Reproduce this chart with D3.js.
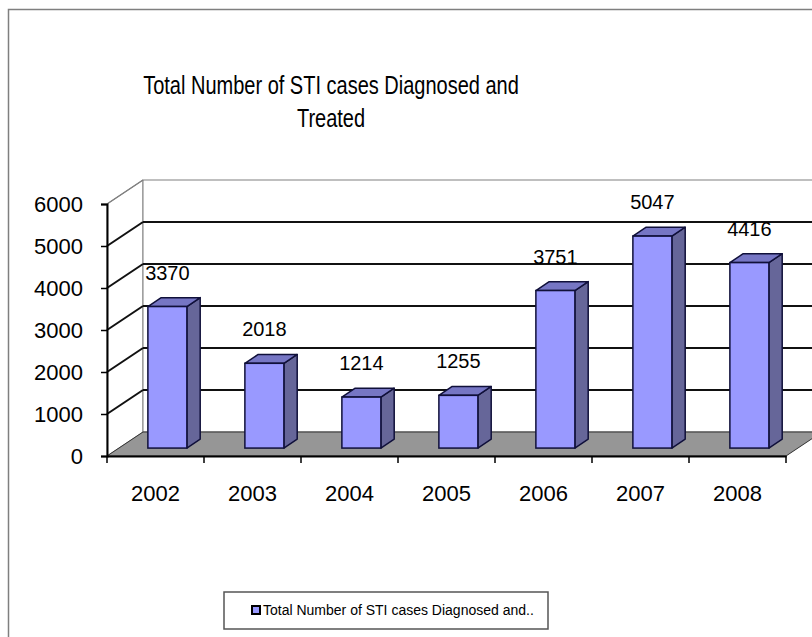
<!DOCTYPE html>
<html>
<head>
<meta charset="utf-8">
<script src="https://cdn.jsdelivr.net/npm/d3@7"></script>
<style>
  body { margin: 0; background: #fff; }
  svg text { font-family: "Liberation Sans", Arial, sans-serif; fill: #000; }
</style>
</head>
<body>
<div id="chart"></div>
<script>
// chart data
const years = ['2002', '2003', '2004', '2005', '2006', '2007', '2008'];
const cases = [3370, 2018, 1214, 1255, 3751, 5047, 4416];
const yTicks = [0, 1000, 2000, 3000, 4000, 5000, 6000];
const seriesName = 'Total Number of STI cases Diagnosed and..';
const titleLines = ['Total Number of STI cases Diagnosed and', 'Treated'];

const width = 812, height = 637;

const svg = d3.select('#chart').append('svg')
    .attr('width', width)
    .attr('height', height);

// outer chart frame
svg.append('rect')
    .attr('x', 8.5).attr('y', 9.5)
    .attr('width', 900).attr('height', 700)
    .attr('fill', 'none')
    .attr('stroke', '#7f7f7f')
    .attr('stroke-width', 1.5);

// title (the original is a bit narrow for its height, so squeeze it horizontally)
const titleG = svg.append('g');
const title = titleG.append('text')
    .attr('text-anchor', 'middle')
    .attr('font-size', 25);
title.selectAll('tspan')
    .data(titleLines)
    .join('tspan')
    .attr('x', 0)
    .attr('y', (d, i) => 94 + i * 33)
    .text(d => d);
const firstLineW = title.select('tspan').node().getComputedTextLength();
titleG.attr('transform', `translate(331,0) scale(${376 / firstLineW},1)`);

// plot geometry (oblique 3D projection)
const depth = { dx: 36, dy: -24 };
const xScale = d3.scaleBand().domain(years).range([107, 786]);
const yScale = d3.scaleLinear().domain([0, 6000]).range([456, 204]);
const x0 = xScale.range()[0], x1 = xScale.range()[1];
const yTop = yScale(6000), yBase = yScale(0);

const plot = svg.append('g');

// left side wall
plot.append('polygon')
    .attr('points', [[x0, yTop], [x0 + depth.dx, yTop + depth.dy],
        [x0 + depth.dx, yBase + depth.dy], [x0, yBase]].join(' '))
    .attr('fill', '#fff')
    .attr('stroke', '#808080');

// back wall
plot.append('rect')
    .attr('x', x0 + depth.dx)
    .attr('y', yTop + depth.dy)
    .attr('width', x1 - x0 + 10)
    .attr('height', yBase - yTop)
    .attr('fill', '#fff')
    .attr('stroke', '#808080');

// gridlines on back wall and side wall
const grid = yTicks.filter(v => v > 0 && v < 6000);
plot.selectAll('.grid-back')
    .data(grid)
    .join('line')
    .attr('class', 'grid-back')
    .attr('x1', x0 + depth.dx).attr('x2', width + 20)
    .attr('y1', d => yScale(d) + depth.dy)
    .attr('y2', d => yScale(d) + depth.dy)
    .attr('stroke', '#111')
    .attr('stroke-width', 2);

plot.selectAll('.grid-side')
    .data(yTicks.filter(v => v > 0))
    .join('line')
    .attr('class', 'grid-side')
    .attr('x1', x0).attr('x2', x0 + depth.dx)
    .attr('y1', d => yScale(d))
    .attr('y2', d => yScale(d) + depth.dy)
    .attr('stroke', d => d === 6000 ? '#808080' : '#111')
    .attr('stroke-width', d => d === 6000 ? 1.5 : 2);

// floor
plot.append('polygon')
    .attr('points', [[x0, yBase], [x0 + depth.dx, yBase + depth.dy],
        [x1 + depth.dx, yBase + depth.dy], [x1, yBase]].join(' '))
    .attr('fill', '#969696')
    .attr('stroke', '#333')
    .attr('stroke-width', 1);

// bars
const barW = 39;
const barStart = 0.33, barDepth = 0.37;
const sx = depth.dx * barStart, sy = depth.dy * barStart;
const bx = depth.dx * barDepth, by = depth.dy * barDepth;

const bars = plot.selectAll('.bar')
    .data(years.map((y, i) => ({ year: y, value: cases[i] })))
    .join('g')
    .attr('class', 'bar');

const barLeft = d => xScale(d.year) + (xScale.bandwidth() - barW) / 2 + sx;
const barTop = d => yScale(d.value) + sy;
const barBottom = yBase + sy;

bars.append('polygon')
    .attr('points', d => [[barLeft(d) + barW, barTop(d)], [barLeft(d) + barW + bx, barTop(d) + by],
        [barLeft(d) + barW + bx, barBottom + by], [barLeft(d) + barW, barBottom]].join(' '))
    .attr('fill', '#666699')
    .attr('stroke', '#10103a')
    .attr('stroke-width', 1.5)
    .attr('stroke-linejoin', 'round');

bars.append('polygon')
    .attr('points', d => [[barLeft(d), barTop(d)], [barLeft(d) + bx, barTop(d) + by],
        [barLeft(d) + barW + bx, barTop(d) + by], [barLeft(d) + barW, barTop(d)]].join(' '))
    .attr('fill', '#7676c4')
    .attr('stroke', '#10103a')
    .attr('stroke-width', 1.5)
    .attr('stroke-linejoin', 'round');

bars.append('rect')
    .attr('x', barLeft)
    .attr('y', barTop)
    .attr('width', barW)
    .attr('height', d => barBottom - barTop(d))
    .attr('fill', '#9999ff')
    .attr('stroke', '#10103a')
    .attr('stroke-width', 1.5);

// value labels
bars.append('text')
    .attr('x', d => barLeft(d) + barW / 2)
    .attr('y', d => barTop(d) - 34)
    .attr('dy', '0.35em')
    .attr('text-anchor', 'middle')
    .attr('font-size', 20)
    .text(d => d.value);

// y axis
const yAxis = svg.append('g')
    .attr('transform', `translate(${x0},0)`)
    .call(d3.axisLeft(yScale).tickValues(yTicks).tickSize(6).tickPadding(18).tickFormat(d3.format('d')));
yAxis.select('.domain').attr('stroke', '#000').attr('stroke-width', 2);
yAxis.selectAll('.tick line').attr('stroke', '#000').attr('stroke-width', 1.5);
yAxis.selectAll('.tick text').attr('font-size', 22).attr('font-family', '"Liberation Sans", Arial, sans-serif');

// x axis: labels at band centres, ticks at band boundaries
const xAxis = svg.append('g')
    .attr('transform', `translate(0,${yBase})`)
    .call(d3.axisBottom(xScale).tickSize(0).tickPadding(29));
xAxis.select('.domain').attr('stroke', '#000').attr('stroke-width', 2);
xAxis.selectAll('.tick text').attr('font-size', 22).attr('font-family', '"Liberation Sans", Arial, sans-serif');

xAxis.selectAll('.xtick')
    .data(years.concat(['end']))
    .join('line')
    .attr('class', 'xtick')
    .attr('x1', (d, i) => x0 + i * xScale.step())
    .attr('x2', (d, i) => x0 + i * xScale.step())
    .attr('y1', 0).attr('y2', 7)
    .attr('stroke', '#000')
    .attr('stroke-width', 1.5);

// legend
const legend = svg.append('g').attr('transform', 'translate(224,592)');
legend.append('rect')
    .attr('width', 324).attr('height', 37)
    .attr('fill', '#fff')
    .attr('stroke', '#555')
    .attr('stroke-width', 1.5);
legend.append('rect')
    .attr('x', 28).attr('y', 14)
    .attr('width', 8).attr('height', 8)
    .attr('fill', '#9999ff')
    .attr('stroke', '#000')
    .attr('stroke-width', 2);
legend.append('text')
    .attr('x', 39).attr('y', 18.5)
    .attr('dy', '0.35em')
    .attr('font-size', 14)
    .text(seriesName);
</script>
</body>
</html>
